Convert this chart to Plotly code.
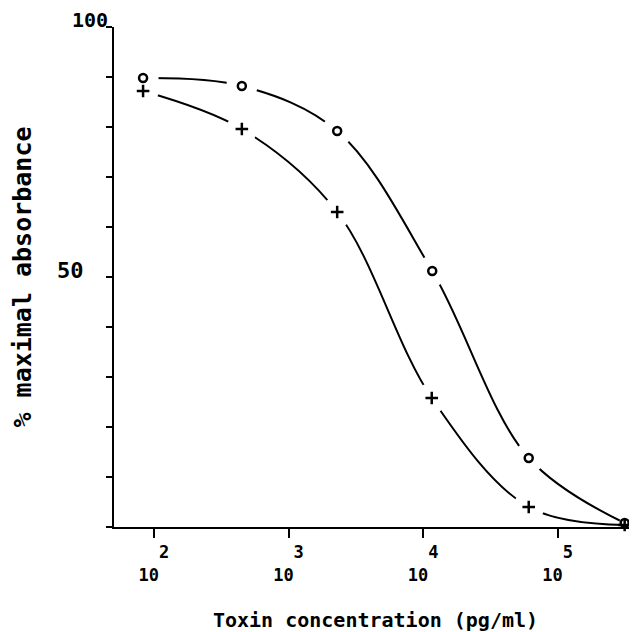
import plotly.graph_objects as go

# Data
conc_o = [83, 450, 2300, 11700, 61000, 315000]
abs_o = [89.8, 88.2, 79.2, 51.2, 13.8, 0.8]
conc_p = [83, 450, 2300, 11600, 61000, 315000]
abs_p = [87.2, 79.6, 63.0, 25.8, 4.0, 0.4]

x_tickvals = [1e2, 1e3, 1e4, 1e5]
x_exponents = ["2", "3", "4", "5"]
y_minor_ticks = [0, 10, 20, 30, 40, 50, 60, 70, 80, 90, 100]
y_label_val = [50]
y_label_text = ["50"]
y_top_label = "100"

FONT = "DejaVu Sans Mono"
NB = "\u00a0"
XR = [1.703, 5.59]
YR = [0, 100]
halo_sizes = [28, 28, 28, 28, 28, 8]

fig = go.Figure()

# curves on the main axes
for xs, ys in [(conc_o, abs_o), (conc_p, abs_p)]:
    fig.add_trace(go.Scatter(x=xs, y=ys, mode="lines",
                             line=dict(color="black", width=2, shape="spline"),
                             hoverinfo="skip", showlegend=False))
# halos + symbols on an overlaying (identical) pair of axes, drawn above the curves
for xs, ys in [(conc_o, abs_o), (conc_p, abs_p)]:
    fig.add_trace(go.Scatter(x=xs, y=ys, mode="markers", xaxis="x2", yaxis="y2", cliponaxis=False,
                             opacity=1,
                             marker=dict(symbol="circle", size=halo_sizes, color="#ffffff", opacity=1,
                                         line=dict(width=3, color="#ffffff")),
                             hoverinfo="skip", showlegend=False))
fig.add_trace(go.Scatter(x=conc_o, y=abs_o, mode="markers", xaxis="x2", yaxis="y2", cliponaxis=False,
                         marker=dict(symbol="circle-open", size=8, color="black", line=dict(width=2.5, color="black")),
                         showlegend=False))
fig.add_trace(go.Scatter(x=conc_p, y=abs_p, mode="markers", xaxis="x2", yaxis="y2", cliponaxis=False,
                         marker=dict(symbol="cross-thin-open", size=9, color="black", line=dict(width=2.5, color="black")),
                         showlegend=False))

# page body has an 8px margin: figure is sized/offset to compensate
fig.update_layout(
    width=629, height=624,
    margin=dict(l=106, r=0, t=19, b=105),
    paper_bgcolor="white", plot_bgcolor="white",
    hovermode=False,
    font=dict(family=FONT, color="black", size=18),
    xaxis=dict(type="log", range=XR, showgrid=False, zeroline=False, automargin=False,
               showline=True, linecolor="black", linewidth=2,
               ticks="outside", ticklen=9, tickwidth=2, tickcolor="black",
               tickvals=x_tickvals,
               ticktext=[NB + NB + e + "<br>10" + NB for e in x_exponents],
               tickfont=dict(family=FONT, size=17, weight="bold"),
               ticklabelstandoff=0,
               title=dict(text="Toxin concentration (pg/ml)", font=dict(family=FONT, size=20, weight="bold"),
                          standoff=38)),
    yaxis=dict(range=YR, showgrid=False, zeroline=False, automargin=False,
               showline=True, linecolor="black", linewidth=2,
               ticks="outside", ticklen=6, tickwidth=2, tickcolor="black",
               tickvals=y_label_val, ticktext=y_label_text,
               minor=dict(tickmode="array", tickvals=y_minor_ticks, ticks="outside", ticklen=6,
                          tickwidth=2, tickcolor="black", showgrid=False),
               tickfont=dict(family=FONT, size=22, weight="bold"),
               ticklabelstandoff=18, ticklabelshift=-7,
               title=dict(text="% maximal absorbance", font=dict(family=FONT, size=25, weight="bold"),
                          standoff=68)),
    xaxis2=dict(type="log", range=XR, overlaying="x", visible=False, automargin=False),
    yaxis2=dict(range=YR, overlaying="y", visible=False, automargin=False),
)
fig.add_annotation(x=0, xref="paper", y=100, yref="y", text=y_top_label, showarrow=False,
                   xanchor="right", yanchor="bottom", xshift=-5, yshift=-6, borderpad=0,
                   font=dict(family=FONT, size=20, weight="bold"))

fig.write_html("out.html")
